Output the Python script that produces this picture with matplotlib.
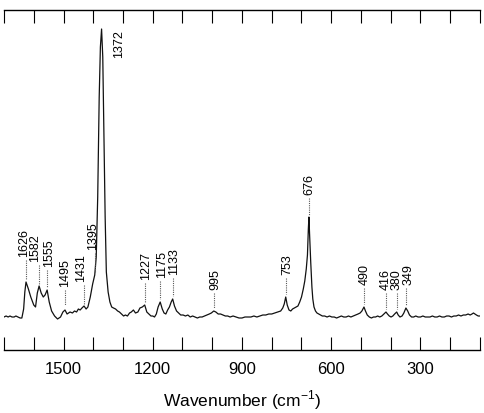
import matplotlib
matplotlib.use("Agg")
import matplotlib.pyplot as plt
from matplotlib.ticker import FixedLocator, MultipleLocator

plt.rcParams['font.family'] = ['Liberation Sans', 'DejaVu Sans']
plt.rcParams['mathtext.fontset'] = 'custom'
plt.rcParams['mathtext.rm'] = 'Liberation Sans'

# spectrum (wavenumber in cm-1, intensity in arb. units)
wavenumber = [1700, 1693, 1686, 1680, 1673, 1666, 1660, 1653, 1646, 1640,
              1634, 1630, 1626, 1618, 1610, 1600, 1594, 1588, 1582, 1575,
              1568, 1562, 1555, 1548, 1540, 1530, 1520, 1510, 1502, 1495,
              1488, 1478, 1470, 1463, 1456, 1450, 1444, 1438, 1431, 1424,
              1418, 1410, 1402, 1395, 1390, 1385, 1380, 1376, 1372, 1368,
              1364, 1360, 1356, 1350, 1344, 1338, 1332, 1325, 1318, 1312,
              1305, 1298, 1292, 1285, 1278, 1272, 1265, 1258, 1250, 1243,
              1235, 1227, 1220, 1213, 1206, 1200, 1194, 1188, 1182, 1175,
              1168, 1162, 1156, 1150, 1144, 1138, 1133, 1127, 1120, 1113,
              1106, 1098, 1090, 1082, 1074, 1066, 1058, 1050, 1042, 1034,
              1026, 1018, 1010, 1003, 995, 988, 980, 972, 964, 956,
              948, 940, 930, 920, 910, 900, 890, 880, 870, 860,
              850, 840, 830, 820, 810, 800, 790, 780, 770, 763,
              758, 753, 748, 742, 736, 730, 724, 718, 712, 706,
              700, 694, 689, 684, 680, 677, 675, 673, 669, 665,
              662, 658, 653, 648, 642, 636, 630, 622, 614, 606,
              598, 590, 582, 574, 566, 558, 550, 542, 534, 526,
              518, 510, 503, 497, 490, 485, 479, 472, 465, 458,
              451, 444, 437, 430, 423, 416, 411, 405, 399, 393,
              387, 380, 375, 369, 362, 356, 349, 343, 337, 330,
              323, 316, 308, 300, 292, 284, 276, 268, 260, 252,
              244, 236, 228, 220, 212, 204, 196, 188, 180, 172,
              164, 156, 148, 140, 133, 127, 122, 117, 112, 106,
              100]
intensity = [0, 1, 0, 1, 0, 0, 1, 0, -1, -1,
             8, 25, 35, 28, 20, 12, 10, 24, 31, 24,
             20, 22, 27, 15, 6, 1, -2, 0, 5, 7,
             3, 5, 4, 6, 5, 8, 7, 9, 11, 8,
             10, 20, 33, 42, 60, 120, 220, 270, 288, 260,
             180, 100, 45, 25, 15, 10, 9, 8, 6, 5,
             3, 1, 2, 1, 4, 5, 7, 4, 5, 9,
             10, 12, 5, 3, 1, 1, 0, 3, 10, 15,
             8, 4, 3, 7, 10, 15, 18, 11, 6, 4,
             2, 2, 1, 2, 0, 1, 0, -1, 0, 0,
             1, 2, 3, 4, 6, 5, 3, 3, 2, 1,
             1, 0, 1, 0, -1, -1, 0, 0, 0, 1,
             0, 1, 2, 2, 3, 3, 4, 5, 6, 9,
             13, 20, 12, 7, 6, 8, 9, 10, 11, 15,
             20, 28, 36, 48, 62, 88, 100, 84, 55, 30,
             18, 10, 6, 4, 3, 2, 1, 1, 0, 1,
             0, 0, -1, 0, 1, 0, 0, 1, 0, 1,
             2, 3, 4, 6, 10, 6, 2, 0, -1, 0,
             0, 1, 0, 1, 3, 5, 3, 1, 0, 1,
             3, 5, 2, 0, 1, 4, 9, 6, 2, 0,
             0, 1, 0, 0, 1, 0, 0, 0, 1, 0,
             0, 1, 0, 0, 1, 1, 0, 1, 1, 2,
             1, 2, 2, 3, 2, 3, 4, 3, 2, 1,
             1]

# labelled peaks
peak_names = ['1626', '1582', '1555', '1495', '1431', '1395', '1227', '1175',
              '1133', '995', '753', '676', '490', '416', '380', '349']
peak_pos = [1626, 1582, 1555, 1495, 1431, 1395, 1227, 1175,
            1133, 995, 753, 676, 490, 416, 380, 349]
peak_top = [35, 31, 28, 10, 11, 43, 12, 16, 19, 7, 21, 100, 11, 6, 6, 10]

# label placement (text centre x and bottom of the rotated text)
label_x = [1631, 1594, 1547, 1496, 1440, 1400, 1224, 1170,
           1129, 990, 748, 675, 486, 418, 379, 340]
label_base = [61, 56, 51, 31, 36, 68, 38, 40, 43, 28, 43, 123, 33, 28, 28, 33]

fig = plt.figure(figsize=(4.85, 4.14), dpi=100)
ax = fig.add_axes([4 / 485, 1 - 351 / 414, 476 / 485, 340 / 414])

ax.plot(wavenumber, intensity, color='#111111', lw=0.9)

for name, x, top, tx, base in zip(peak_names, peak_pos, peak_top,
                                  label_x, label_base):
    ax.text(tx, base, name, rotation=90, ha='center', va='bottom',
            fontsize=9)
    ax.plot([x, x], [base - 4, top + 2], color='0.35', lw=0.8,
            linestyle=(0, (1, 1)))

# main peak label sits beside the peak
ax.text(1312, 260, '1372', rotation=90, ha='center', va='bottom', fontsize=9)

ax.set_xlim(1700, 100)
ax.set_ylim(-33, 307)

ax.xaxis.set_major_locator(FixedLocator([1500, 1200, 900, 600, 300]))
ax.xaxis.set_minor_locator(MultipleLocator(100))
ax.tick_params(axis='x', which='both', direction='in', top=True, bottom=True,
               length=9.5, width=0.8, labelsize=12, pad=8)
ax.set_yticks([])
ax.spines['left'].set_visible(False)
ax.spines['right'].set_visible(False)
ax.spines['top'].set_linewidth(1.0)
ax.spines['bottom'].set_linewidth(1.0)

ax.set_xlabel(r'Wavenumber (cm$^{-1}$)', fontsize=12.5, labelpad=8)

fig.savefig('out.png', dpi=100)
